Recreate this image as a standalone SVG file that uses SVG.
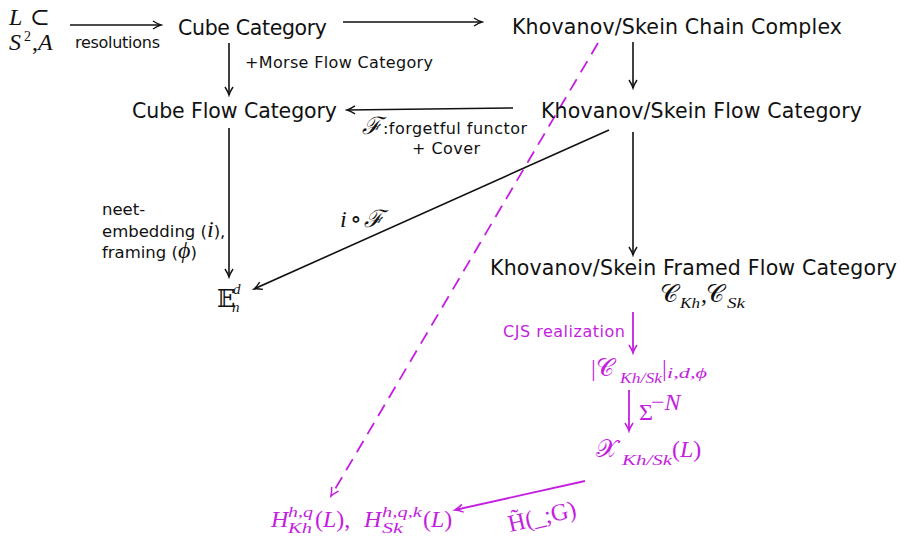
<svg xmlns="http://www.w3.org/2000/svg" width="901" height="536" viewBox="0 0 901 536">
<style>
.t{font-family:"DejaVu Sans","Liberation Sans",sans-serif;fill:#111}
.big{font-size:20.5px}
.sm{font-size:16px}
.m{font-family:"Liberation Serif","DejaVu Serif",serif;font-style:italic;fill:#111;font-size:24px}
.r{font-family:"Liberation Serif","DejaVu Serif",serif;fill:#111;font-size:24px}
.c{font-family:"DejaVu Serif","DejaVu Sans",serif;fill:#111;font-size:25px}
.s{font-size:15px}
.mg{fill:#c41ee0}
.e{stroke:#111;stroke-width:1.6;fill:none;marker-end:url(#ah)}
.em{stroke:#c41ee0;stroke-width:1.8;fill:none;marker-end:url(#ahm)}
</style>
<defs>
<marker id="ah" viewBox="-10 -6 12 12" markerWidth="12" markerHeight="12" refX="0" refY="0" orient="auto" markerUnits="userSpaceOnUse">
<path d="M-8,-4 Q-3,-0.8 0,0 Q-3,0.8 -8,4" fill="none" stroke="#111" stroke-width="1.4"/>
</marker>
<marker id="ahm" viewBox="-10 -6 12 12" markerWidth="12" markerHeight="12" refX="0" refY="0" orient="auto" markerUnits="userSpaceOnUse">
<path d="M-8,-4 Q-3,-0.8 0,0 Q-3,0.8 -8,4" fill="none" stroke="#c41ee0" stroke-width="1.5"/>
</marker>
</defs>
<g id="connectors">
<line class="e" x1="70" y1="25" x2="161" y2="25"/>
<line class="e" x1="343" y1="22" x2="482" y2="22"/>
<line class="e" x1="229" y1="43" x2="229" y2="95"/>
<line class="e" x1="633" y1="42" x2="633" y2="88"/>
<line class="e" x1="513" y1="108" x2="347" y2="110"/>
<line class="e" x1="229" y1="128" x2="229" y2="277"/>
<line class="e" x1="609" y1="130" x2="254" y2="289"/>
<line class="e" x1="633" y1="132" x2="633" y2="255"/>
<line class="em" x1="633" y1="312" x2="633" y2="353"/>
<line class="em" x1="629" y1="390" x2="629" y2="431"/>
<line class="em" x1="585" y1="481" x2="455" y2="510"/>
<line class="em" x1="598" y1="43" x2="331" y2="496" stroke-dasharray="13,8"/>
</g>
<g id="n-link">
<text class="m" font-size="22"><tspan x="9" y="25">L</tspan><tspan x="30" y="25" font-style="normal">⊂</tspan><tspan x="9" y="50">S</tspan><tspan x="24" y="41" font-size="14" font-style="normal">2</tspan><tspan x="32" y="50" font-style="normal">,</tspan><tspan x="38" y="50">A</tspan></text>
</g>
<text class="t sm" x="75" y="48" textLength="85">resolutions</text>
<g id="n-cube"><text class="t big" x="178" y="35" textLength="149">Cube Category</text></g>
<g id="n-chain"><text class="t big" x="512" y="34" textLength="330">Khovanov/Skein Chain Complex</text></g>
<text class="t sm" x="245" y="68" textLength="188">+Morse Flow Category</text>
<g id="n-cubeflow"><text class="t big" x="132" y="118" textLength="205">Cube Flow Category</text></g>
<g id="n-khflow"><text class="t big" x="541" y="118" textLength="321">Khovanov/Skein Flow Category</text></g>
<text class="m" x="362" y="134" font-size="16">ℱ</text>
<text class="t sm" x="383" y="134" textLength="144">:forgetful functor</text>
<text class="t sm" x="412" y="154" textLength="68">+ Cover</text>
<text class="t" x="102" y="215" font-size="16.5">neet-</text>
<text class="t" x="102" y="237" font-size="16.5">embedding (<tspan class="m" font-size="17">i</tspan>),</text>
<text class="t" x="102" y="258" font-size="16.5">framing (<tspan class="m" font-size="17">ϕ</tspan>)</text>
<text class="m" x="340" y="227">i</text>
<text class="r" x="350" y="227">∘</text>
<text class="m" x="364" y="227" font-size="26">ℱ</text>
<g id="n-E">
<text class="r" font-size="22"><tspan x="217" y="307">𝔼</tspan><tspan x="233" y="294" font-size="15" font-style="italic">d</tspan><tspan x="232" y="312" font-size="15" font-style="italic">n</tspan></text>
</g>
<g id="n-framed">
<text class="t big" x="490" y="275" textLength="407">Khovanov/Skein Framed Flow Category</text>
<text class="c" x="660" y="302">𝒞</text>
<text class="m s" x="680" y="308" textLength="20" lengthAdjust="spacingAndGlyphs">Kh</text>
<text class="r" x="701" y="302">,</text>
<text class="c" x="706" y="302">𝒞</text>
<text class="m s" x="727" y="308" textLength="18" lengthAdjust="spacingAndGlyphs">Sk</text>
</g>
<text class="t sm mg" x="503" y="337" textLength="122">CJS realization</text>
<g id="n-real">
<text class="r mg" x="591" y="376">|</text>
<text class="c mg" x="596" y="376">𝒞</text>
<text class="m s mg" x="620" y="383" textLength="42" lengthAdjust="spacingAndGlyphs">Kh/Sk</text>
<text class="r mg" x="662" y="376">|</text>
<text class="m s mg" x="667" y="378" textLength="40" lengthAdjust="spacingAndGlyphs">i,d,ϕ</text>
</g>
<text class="r mg" x="639" y="420" font-size="16">Σ</text>
<text class="r mg" x="651" y="410" font-size="12">−<tspan font-style="italic">N</tspan></text>
<g id="n-X">
<text class="c mg" x="596" y="457">𝒳</text>
<text class="m s mg" x="622" y="465" textLength="50" lengthAdjust="spacingAndGlyphs">Kh/Sk</text>
<text class="m mg" x="672" y="457"><tspan font-style="normal">(</tspan>L<tspan font-style="normal">)</tspan></text>
</g>
<text class="r mg" x="510" y="532" font-size="20" transform="rotate(-13 510 532)">H̃(_;G)</text>
<g id="n-H">
<text class="m mg" x="271" y="527">H</text>
<text class="m s mg" x="288" y="517" textLength="25" lengthAdjust="spacingAndGlyphs">h,q</text>
<text class="m s mg" x="288" y="533" textLength="24" lengthAdjust="spacingAndGlyphs">Kh</text>
<text class="m mg" x="315" y="527"><tspan font-style="normal">(</tspan>L<tspan font-style="normal">),</tspan></text>
<text class="m mg" x="364" y="527">H</text>
<text class="m s mg" x="382" y="517" textLength="40" lengthAdjust="spacingAndGlyphs">h,q,k</text>
<text class="m s mg" x="382" y="533" textLength="21" lengthAdjust="spacingAndGlyphs">Sk</text>
<text class="m mg" x="423" y="527"><tspan font-style="normal">(</tspan>L<tspan font-style="normal">)</tspan></text>
</g>
</svg>
